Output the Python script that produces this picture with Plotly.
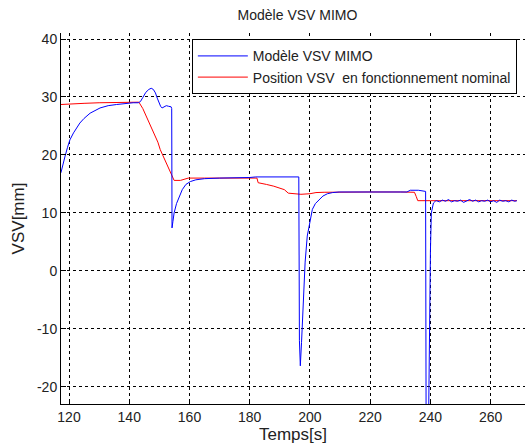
import plotly.graph_objs as go

# Modèle VSV MIMO
t_mimo = [117.3, 118.0, 118.7, 119.5, 120.3, 121.5, 122.5, 123.6, 125.0, 127.0,
          130.3, 133.0, 135.8, 138.5, 141.3, 143.0, 143.7, 144.5, 145.5, 146.5,
          147.3, 148.0, 148.7, 149.3, 149.8, 150.4, 150.9, 151.5, 152.3, 153.0,
          153.9, 154.1, 154.2, 154.5, 154.9, 155.7, 156.6, 157.6, 158.8, 160.3,
          162.1, 165.0, 170.0, 175.0, 180.0, 182.0, 196.3, 196.5, 196.8, 197.2,
          197.8, 198.4, 199.1, 200.1, 200.8, 201.8, 203.0, 204.3, 205.8, 207.5,
          209.7, 215.0, 220.0, 225.0, 230.0, 232.2, 233.3, 236.0, 238.4, 238.6,
          239.2, 239.7, 240.0, 240.3, 240.6, 241.0, 241.6,
          242, 243, 244, 245, 246, 247, 248, 249, 250, 251, 252, 253, 254, 255,
          256, 257, 258, 259, 260, 261, 262, 263, 264, 265, 266, 267, 268, 268.7]
v_mimo = [16.9, 18.6, 19.8, 21.3, 22.6, 23.8, 24.7, 25.5, 26.3, 27.2,
          28.1, 28.5, 28.7, 28.9, 29.0, 29.0, 29.2, 29.9, 30.8, 31.3,
          31.5, 31.3, 30.7, 29.8, 29.0, 28.4, 28.1, 28.3, 28.5, 28.4,
          28.3, 28.0, 7.4, 8.5, 10.0, 11.6, 12.9, 14.0, 14.9, 15.4,
          15.7, 15.9, 16.0, 16.0, 16.1, 16.2, 16.2, -12.0, -16.4, -12.4,
          -4.4, 1.5, 6.0, 8.8, 10.6, 11.6, 12.3, 12.9, 13.3, 13.5,
          13.6, 13.6, 13.6, 13.6, 13.6, 13.6, 13.9, 13.9, 13.7, -35.0,
          -35.0, -5.5, 3.4, 10.0, 11.0, 11.7, 12.0,
          12.1, 11.9, 12.2, 12.0, 12.3, 11.9, 12.1, 12.0, 12.2, 11.8, 12.1, 12.3, 12.0, 12.2,
          11.9, 12.1, 12.0, 12.2, 11.9, 12.1, 11.8, 12.2, 12.0, 12.1, 11.9, 12.2, 12.0, 12.1]

# Position VSV en fonctionnement nominal
t_nom = [117.3, 120, 125, 130, 135, 140, 143.2, 144.5, 145.5, 146.5,
         147.3, 148.5, 149.5, 150.3, 151.2, 152.3, 153.5, 154.5, 154.9, 157,
         158, 159.6, 165, 170, 175, 180, 182.4, 182.8, 184, 185.6,
         188, 190, 191.5, 192.8, 195, 197, 200, 202, 204.7, 210,
         220, 230, 234.7, 235.3, 235.8, 240, 250, 260, 268.7]
v_nom = [28.7, 28.8, 28.9, 29.0, 29.0, 29.1, 29.1, 28.0, 26.9, 25.6,
         24.7, 23.6, 22.2, 20.9, 19.8, 18.5, 17.2, 15.9, 15.6, 15.6,
         15.8, 16.0, 16.0, 16.0, 16.0, 16.0, 16.0, 15.2, 15.1, 14.9,
         14.6, 14.3, 14.0, 13.4, 13.3, 13.2, 13.3, 13.5, 13.55, 13.6,
         13.6, 13.6, 13.55, 12.8, 12.1, 12.1, 12.1, 12.1, 12.1]

y_ticks = [-20, -10, 0, 10, 20, 30, 40]
y_labels = ['-20', '-10', '0', '10', '20', '30', '40']

font = dict(family='Liberation Sans, Arial, sans-serif', size=14, color='#222')

# red drawn first so the blue model shows on top, legend keeps blue first
fig = go.Figure([
    go.Scatter(name='Position VSV\u00a0 en fonctionnement nominal', x=t_nom, y=v_nom,
               mode='lines', line=dict(color='#ff0000', width=1), legendrank=2),
    go.Scatter(name='Modèle VSV MIMO', x=t_mimo, y=v_mimo, mode='lines',
               line=dict(color='#0000ff', width=1), legendrank=1),
])

axis = dict(showline=True, linecolor='black', linewidth=1, mirror=False,
            showgrid=True, gridcolor='black', gridwidth=1, griddash='3px,3px',
            ticks='inside', ticklen=5, tickcolor='black', zeroline=False,
            tickfont=font)

fig.update_layout(
    width=525, height=445,
    margin=dict(l=61, r=0, t=33, b=41),
    paper_bgcolor='white', plot_bgcolor='white',
    font=font,
    title=dict(text='Modèle VSV MIMO', x=297.5 / 525, xanchor='center',
               y=1 - 15 / 445, yanchor='middle', font=font),
    showlegend=True,
    legend=dict(x=0.282, y=0.983, xanchor='left', yanchor='top',
                bgcolor='white', bordercolor='black', borderwidth=1,
                font=font, itemwidth=50),
)
fig.update_xaxes(axis, range=[117.34, 271.4], dtick=20,
                 title=dict(text='Temps[s]', standoff=4))
fig.update_yaxes(axis, range=[-22.99, 41.04], tickvals=y_ticks, ticktext=y_labels,
                 title=dict(text='VSV[mm]', standoff=8))

fig.write_html("out.html", config={'displayModeBar': False},
               post_script="document.body.style.margin='0';document.body.style.overflow='hidden';")
